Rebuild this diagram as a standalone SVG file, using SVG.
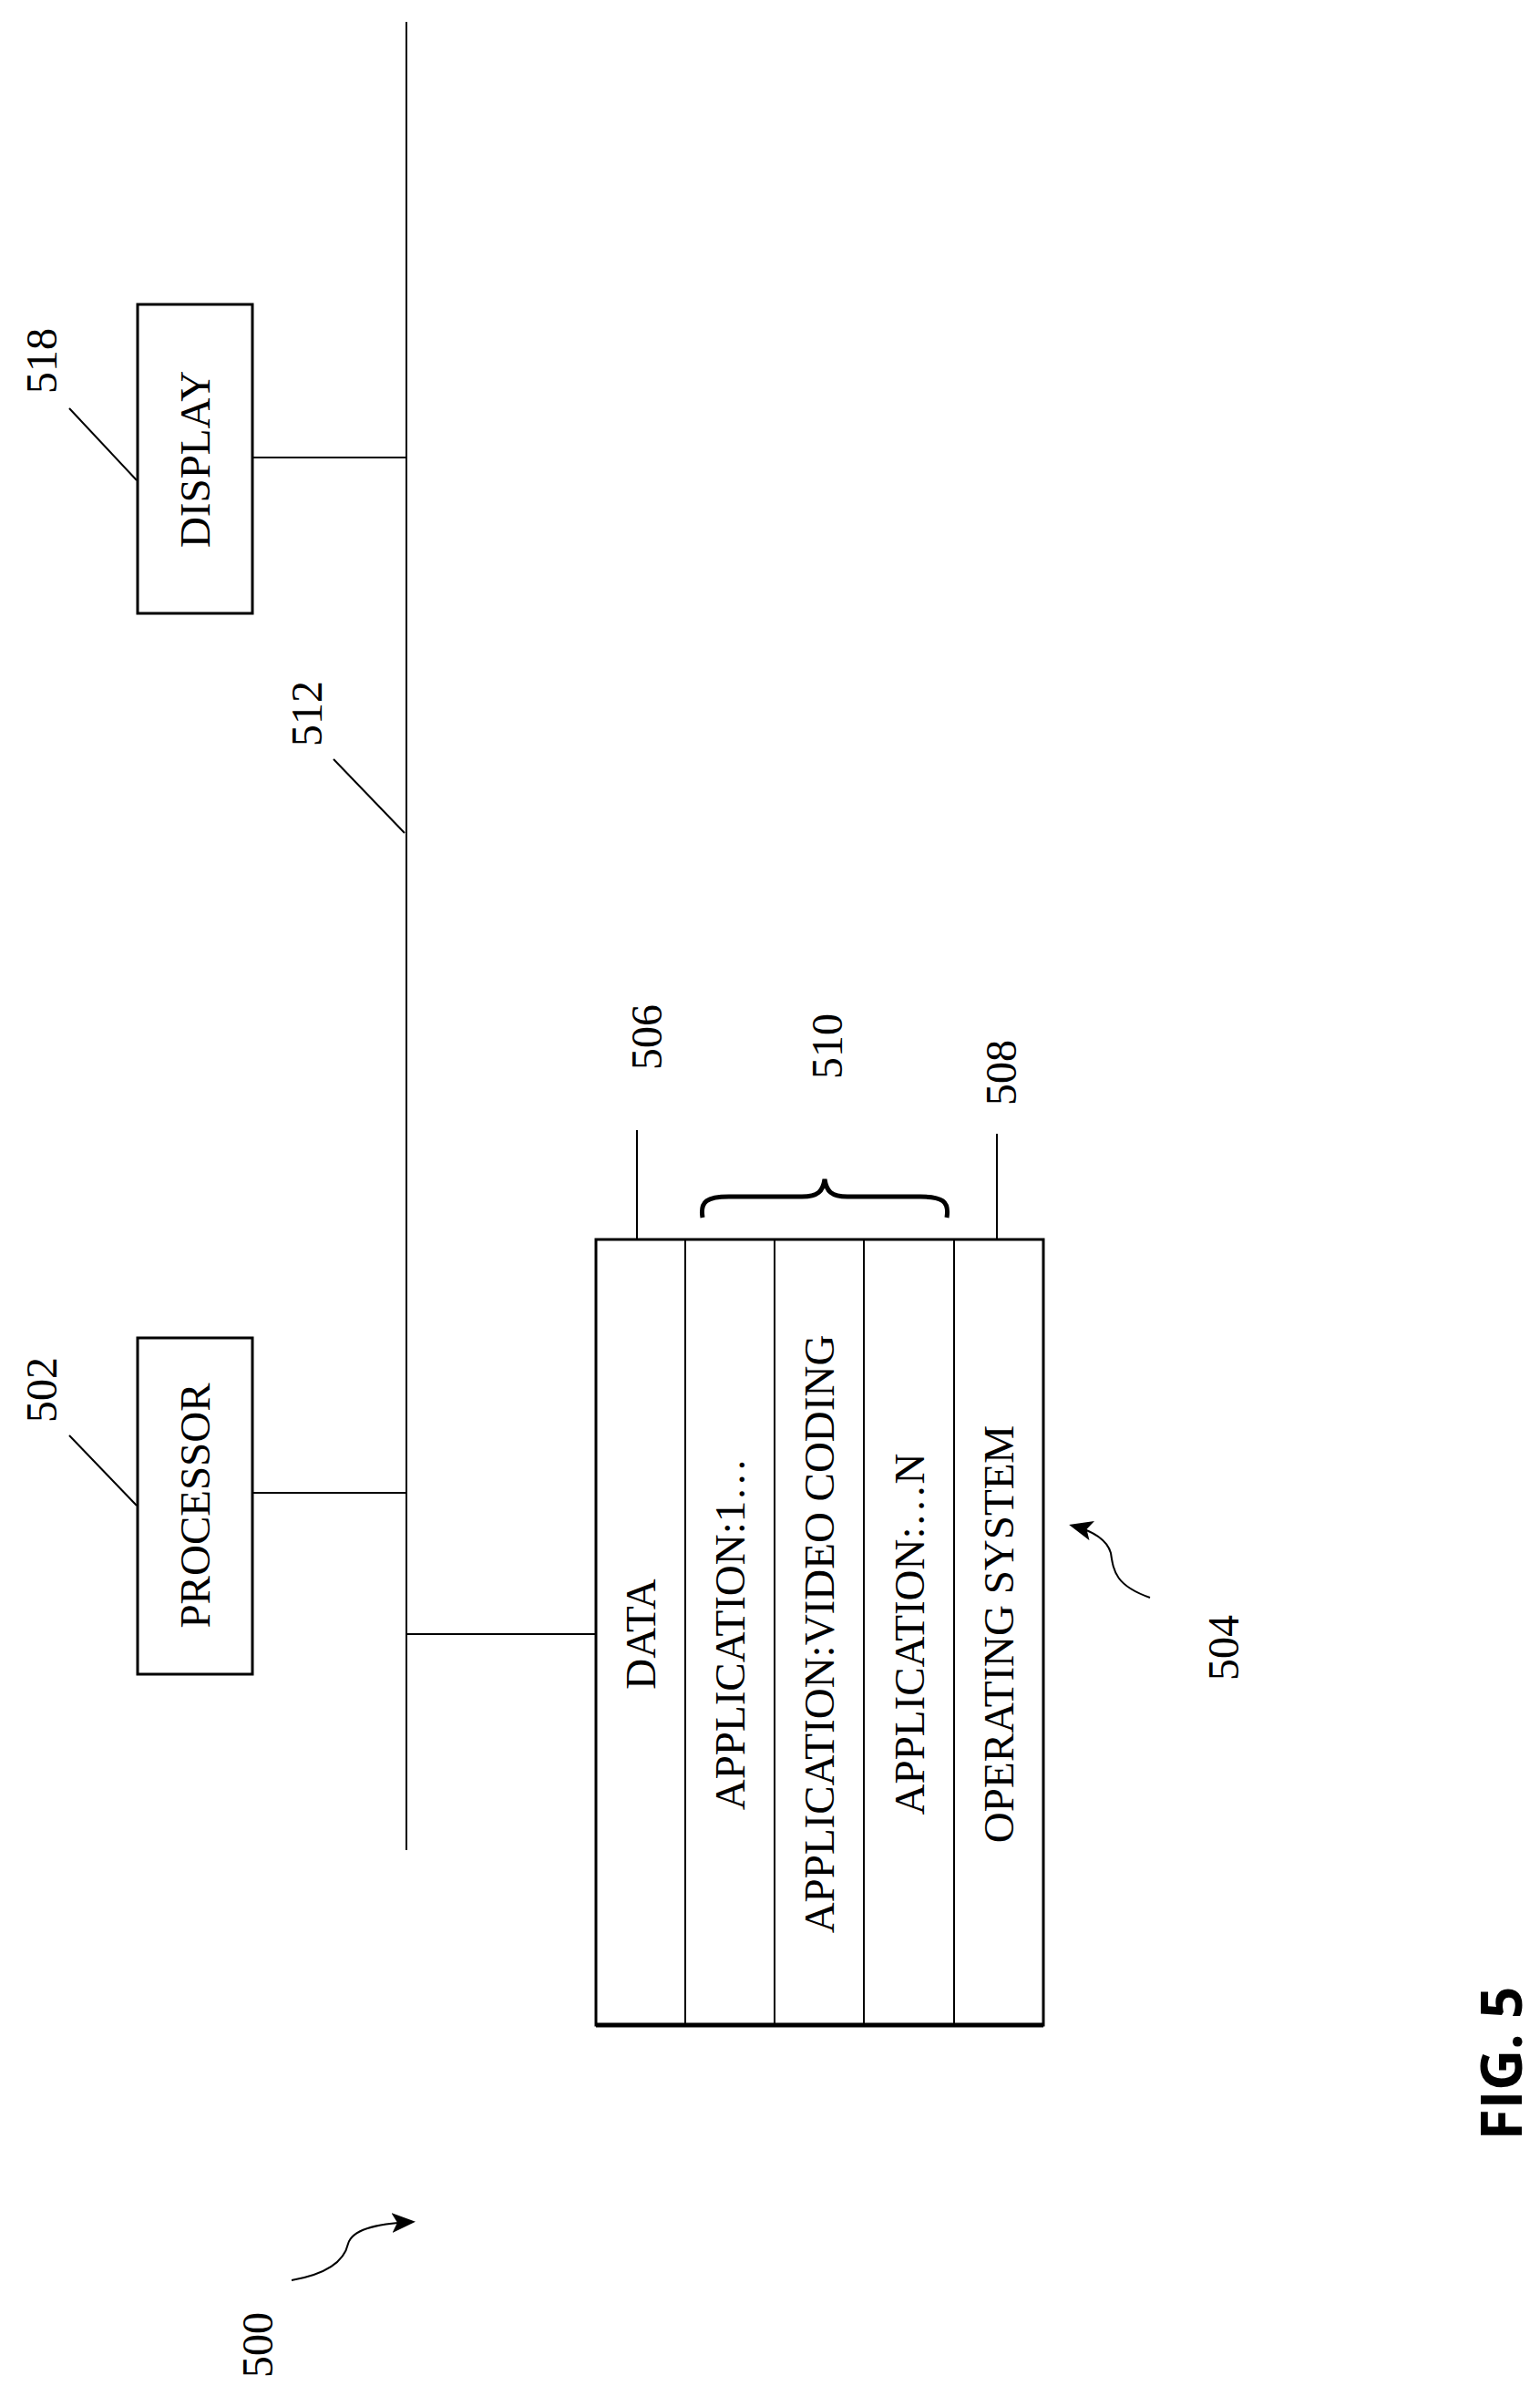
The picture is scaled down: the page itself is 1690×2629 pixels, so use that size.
<svg xmlns="http://www.w3.org/2000/svg" width="1690" height="2629" viewBox="0 0 1690 2629">
<style>
.t{font-family:"Liberation Serif",serif;font-size:47px;fill:#000;text-anchor:middle;dominant-baseline:central}
.n{font-family:"Liberation Serif",serif;font-size:48px;fill:#000;text-anchor:middle;dominant-baseline:central}
.l{stroke:#000;stroke-width:2;fill:none}
.b{stroke:#000;stroke-width:3;fill:#fff}
</style>
<defs><marker id="ah" markerWidth="26" markerHeight="22" refX="22" refY="11" orient="auto" markerUnits="userSpaceOnUse" viewBox="0 0 26 22"><path d="M0,0 L26,11 L0,22 L6,11 z" fill="#000"/></marker></defs>
<g id="connectors">
<line class="l" x1="446" y1="24" x2="446" y2="2030"/>
<line class="l" x1="277" y1="502" x2="446" y2="502"/>
<line class="l" x1="277" y1="1638" x2="446" y2="1638"/>
<line class="l" x1="446" y1="1793" x2="654" y2="1793"/>
</g>
<g id="display"><rect class="b" x="151" y="334" width="126" height="339"/><text class="t" transform="translate(214,504) rotate(-90)">DISPLAY</text></g>
<g id="processor"><rect class="b" x="151" y="1468" width="126" height="369"/><text class="t" transform="translate(214,1652) rotate(-90)">PROCESSOR</text></g>
<g id="memory">
<rect class="b" x="654" y="1360" width="491" height="862"/>
<line x1="654" y1="2222" x2="1145" y2="2222" stroke="#000" stroke-width="5"/>
<line class="l" x1="752" y1="1360" x2="752" y2="2222"/>
<line class="l" x1="850" y1="1360" x2="850" y2="2222"/>
<line class="l" x1="948" y1="1360" x2="948" y2="2222"/>
<line class="l" x1="1047" y1="1360" x2="1047" y2="2222"/>
<text class="t" transform="translate(703,1793) rotate(-90)">DATA</text>
<text class="t" transform="translate(801,1793) rotate(-90)">APPLICATION:1…</text>
<text class="t" transform="translate(899,1793) rotate(-90)">APPLICATION:VIDEO CODING</text>
<text class="t" transform="translate(998,1793) rotate(-90)">APPLICATION:…N</text>
<text class="t" transform="translate(1096,1793) rotate(-90)">OPERATING SYSTEM</text>
</g>
<g id="labels">
<text class="n" transform="translate(45,396) rotate(-90)">518</text>
<line class="l" x1="76" y1="448" x2="150" y2="527"/>
<text class="n" transform="translate(336,783) rotate(-90)">512</text>
<line class="l" x1="366" y1="833" x2="444" y2="914"/>
<text class="n" transform="translate(45,1525) rotate(-90)">502</text>
<line class="l" x1="76" y1="1575" x2="150" y2="1652"/>
<text class="n" transform="translate(709,1138) rotate(-90)">506</text>
<line class="l" x1="699" y1="1240" x2="699" y2="1360"/>
<text class="n" transform="translate(907,1148) rotate(-90)">510</text>
<path stroke="#000" fill="none" stroke-width="5" d="M771,1336 C768,1318 776,1313 800,1313 L880,1313 C898,1313 903,1307 905,1294 C907,1307 912,1313 930,1313 L1010,1313 C1034,1313 1042,1318 1039,1336"/>
<text class="n" transform="translate(1098,1177) rotate(-90)">508</text>
<line class="l" x1="1094" y1="1244" x2="1094" y2="1360"/>
<text class="n" transform="translate(1342,1808) rotate(-90)">504</text>
<path class="l" stroke-width="3" marker-end="url(#ah)" d="M1262,1753 C1225,1740 1222,1725 1219,1704 C1215,1690 1200,1680 1177,1674"/>
<text class="n" transform="translate(282,2573) rotate(-90)">500</text>
<path class="l" stroke-width="3" marker-end="url(#ah)" d="M320,2502 C360,2495 378,2480 382,2462 C386,2447 410,2440 452,2438"/>
<text transform="translate(1646,2264) rotate(-90)" font-family="'Open Sans',sans-serif" font-weight="bold" font-size="62" text-anchor="middle" dominant-baseline="central">FIG. 5</text>
</g>
</svg>
